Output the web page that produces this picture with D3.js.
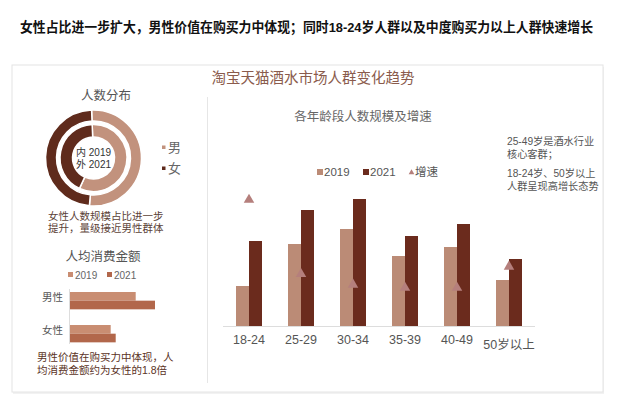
<!DOCTYPE html>
<html>
<head>
<meta charset="utf-8">
<script src="https://cdn.jsdelivr.net/npm/d3@7"></script>
<style>
  body { margin: 0; background: #fff; }
  text { font-family: "Liberation Sans", "Noto Sans CJK SC", sans-serif; }
</style>
</head>
<body>
<script>
// data
const ageGroups = ["18-24", "25-29", "30-34", "35-39", "40-49", "50岁以上"];
const users2019 = [40, 82, 97, 70, 79, 46];
const users2021 = [85, 116, 127, 90, 102, 67];
const growth = [112, 42, 32, 29, 29, 49];

const genders = ["男", "女"];
const share2019 = [57.5, 42.5];
const share2021 = [52, 48];

const spendGroups = ["男性", "女性"];
const spend2019 = [657, 407];
const spend2021 = [850, 457];

const years = ["2019", "2021"];

const W = 640, H = 403;
const svg = d3.select("body").append("svg").attr("width", W).attr("height", H);

// several lines in one text element
function block(x, y, lines, size, color, lh, anchor) {
  const t = svg.append("text").attr("x", x).attr("y", y)
    .attr("font-size", size).attr("fill", color).attr("text-anchor", anchor || "start");
  lines.forEach((s, i) => {
    t.append("tspan").attr("x", x).attr("dy", i ? lh : 0).text(s);
  });
  return t;
}

// headline
svg.append("text").attr("x", 20).attr("y", 31.5)
  .attr("font-size", 13.5).attr("font-weight", "bold").attr("fill", "#111")
  .attr("textLength", 573).attr("lengthAdjust", "spacingAndGlyphs")
  .text("女性占比进一步扩大，男性价值在购买力中体现；同时18-24岁人群以及中度购买力以上人群快速增长");

// panel
svg.append("rect").attr("x", 13).attr("y", 67).attr("width", 591).attr("height", 327).attr("fill", "#f2f2f2");
svg.append("rect").attr("x", 12).attr("y", 65).attr("width", 591).attr("height", 327)
  .attr("fill", "#fff").attr("stroke", "#e4e4e4");
svg.append("line").attr("x1", 207.5).attr("x2", 207.5).attr("y1", 97).attr("y2", 383)
  .attr("stroke", "#e6e6e6");

svg.append("text").attr("x", 313).attr("y", 83).attr("text-anchor", "middle")
  .attr("font-size", 14.5).attr("fill", "#8a5b4c").text("淘宝天猫酒水市场人群变化趋势");

// ---------- donut ----------
const cx = 93.5, cy = 158;
const genderColor = d3.scaleOrdinal().domain(genders).range(["#c2927d", "#5f2b1c"]);
const pie = d3.pie().sort(null).startAngle(-0.04).endAngle(2 * Math.PI - 0.04);
const donut = svg.append("g").attr("transform", `translate(${cx},${cy})`);

[[share2019, 21, 33.5], [share2021, 37, 48]].forEach(([vals, r0, r1]) => {
  const arc = d3.arc().innerRadius(r0).outerRadius(r1);
  donut.selectAll(null).data(pie(vals)).enter().append("path")
    .attr("d", arc)
    .attr("fill", (d, i) => genderColor(genders[i]))
    .attr("stroke", "#fff").attr("stroke-width", 1.5);
});

block(cx, cy - 2, ["内 2019", "外 2021"], 10, "#333", 11.5, "middle");

svg.append("text").attr("x", 106).attr("y", 99.5).attr("text-anchor", "middle")
  .attr("font-size", 12.5).attr("fill", "#555").text("人数分布");

const gLeg = svg.selectAll(".gleg").data(genders).enter().append("g")
  .attr("transform", (d, i) => `translate(162,${147 + i * 21})`);
gLeg.append("rect").attr("x", 0).attr("y", -1.5).attr("width", 3.5).attr("height", 3.5)
  .attr("fill", d => genderColor(d));
gLeg.append("text").attr("x", 6).attr("y", 5).attr("font-size", 13).attr("fill", "#666").text(d => d);

block(48, 219.5, ["女性人数规模占比进一步", "提升，量级接近男性群体"], 10.5, "#5b4237", 12.5);

// ---------- spend bars ----------
svg.append("text").attr("x", 103).attr("y", 260.5).attr("text-anchor", "middle")
  .attr("font-size", 12.5).attr("fill", "#555").text("人均消费金额");

const spendColor = d3.scaleOrdinal().domain(years).range(["#c98d72", "#b2674b"]);
const sx = d3.scaleLinear().domain([0, 1000]).range([70, 170]);
const sy = d3.scaleBand().domain(spendGroups).range([283.75, 350.6]).paddingInner(0.475).paddingOuter(0.25);
const sy1 = d3.scaleBand().domain(years).range([0, sy.bandwidth()]);

const sLeg = svg.selectAll(".sleg").data(years).enter().append("g")
  .attr("transform", (d, i) => `translate(${68 + i * 39},275)`);
sLeg.append("rect").attr("x", 0).attr("y", -3).attr("width", 5).attr("height", 5).attr("fill", d => spendColor(d));
sLeg.append("text").attr("x", 7).attr("y", 3.5).attr("font-size", 10).attr("fill", "#666").text(d => d);

svg.append("line").attr("x1", 69.5).attr("x2", 69.5).attr("y1", 289).attr("y2", 344).attr("stroke", "#ddd");

spendGroups.forEach((g, gi) => {
  const vals = [spend2019[gi], spend2021[gi]];
  svg.selectAll(null).data(vals).enter().append("rect")
    .attr("x", sx(0))
    .attr("y", (d, i) => sy(g) + sy1(years[i]))
    .attr("width", d => sx(d) - sx(0))
    .attr("height", sy1.bandwidth())
    .attr("fill", (d, i) => spendColor(years[i]));
  svg.append("text").attr("x", 63).attr("y", sy(g) + sy.bandwidth() / 2)
    .attr("text-anchor", "end").attr("font-size", 10.5).attr("fill", "#555").text(g);
});

block(37, 361, ["男性价值在购买力中体现，人", "均消费金额约为女性的1.8倍"], 10.5, "#5b3325", 12.5);

// ---------- age bars ----------
svg.append("text").attr("x", 363).attr("y", 121).attr("text-anchor", "middle")
  .attr("font-size", 12.5).attr("fill", "#666").text("各年龄段人数规模及增速");

const ageColor = d3.scaleOrdinal().domain(years).range(["#bb8b76", "#6b2b1d"]);
const triColor = "#b57f7c";
const x = d3.scaleBand().domain(ageGroups).range([223, 535]).paddingInner(0.5).paddingOuter(0.25);
const x1 = d3.scaleBand().domain(years).range([0, x.bandwidth()]);
const y = d3.scaleLinear().domain([0, 140]).range([326, 186]);
const y2 = d3.scaleLinear().domain([-7, 125]).range([326, 186]);

const groups = svg.selectAll(".age").data(ageGroups).enter().append("g")
  .attr("transform", d => `translate(${x(d)},0)`);
groups.selectAll("rect").data((d, i) => [users2019[i], users2021[i]]).enter().append("rect")
  .attr("x", (d, i) => x1(years[i]))
  .attr("y", d => y(d))
  .attr("width", x1.bandwidth())
  .attr("height", d => y(0) - y(d))
  .attr("fill", (d, i) => ageColor(years[i]));

const tri = d3.symbol().type(d3.symbolTriangle).size(48);
svg.selectAll(".tri").data(growth).enter().append("path")
  .attr("d", tri)
  .attr("transform", (d, i) => `translate(${x(ageGroups[i]) + x.bandwidth() / 2},${y2(d)})`)
  .attr("fill", triColor);

const xAxis = svg.append("g").attr("transform", "translate(0,326)")
  .call(d3.axisBottom(x).tickSize(0).tickPadding(9));
xAxis.select(".domain").attr("stroke", "#ddd").attr("d", "M223,0.5H535");
xAxis.selectAll("text").attr("font-size", 12.5).attr("fill", "#555")
  .attr("font-family", '"Liberation Sans", "Noto Sans CJK SC", sans-serif')
  .attr("dy", d => d === "50岁以上" ? "1.15em" : "0.71em");

// legend
const legItems = [
  { label: "2019", color: ageColor("2019"), shape: "rect", x: 317 },
  { label: "2021", color: ageColor("2021"), shape: "rect", x: 363 },
  { label: "增速", color: triColor, shape: "tri", x: 409 }
];
const aLeg = svg.selectAll(".aleg").data(legItems).enter().append("g")
  .attr("transform", d => `translate(${d.x},172)`);
aLeg.filter(d => d.shape === "rect").append("rect")
  .attr("x", 0).attr("y", -3).attr("width", 6).attr("height", 6).attr("fill", d => d.color);
aLeg.filter(d => d.shape === "tri").append("path")
  .attr("d", d3.symbol().type(d3.symbolTriangle).size(14)).attr("transform", "translate(2.5,0.5)")
  .attr("fill", d => d.color);
aLeg.append("text").attr("x", d => d.shape === "tri" ? 6 : 7).attr("y", 4).attr("font-size", 11.5)
  .attr("fill", "#555").text(d => d.label);

// side note
block(507, 145, ["25-49岁是酒水行业", "核心客群；"], 10.2, "#555", 12.5);
block(507, 177, ["18-24岁、50岁以上", "人群呈现高增长态势"], 10.2, "#555", 12.5);
</script>
</body>
</html>
